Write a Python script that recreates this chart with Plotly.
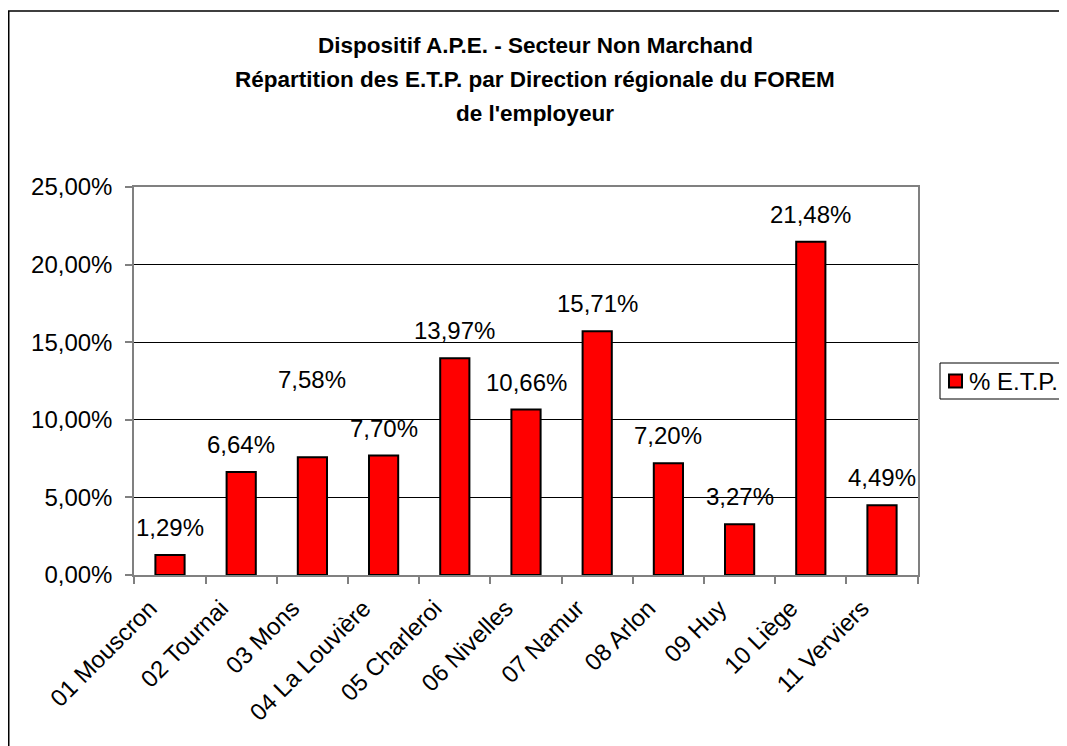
import plotly.graph_objects as go

categories = ["01 Mouscron", "02 Tournai", "03 Mons", "04 La Louvière", "05 Charleroi",
              "06 Nivelles", "07 Namur", "08 Arlon", "09 Huy", "10 Liège", "11 Verviers"]
values_pct = [1.29, 6.64, 7.58, 7.70, 13.97, 10.66, 15.71, 7.20, 3.27, 21.48, 4.49]
series_name = "% E.T.P."
title_lines = ["Dispositif A.P.E. - Secteur Non Marchand",
               "Répartition des E.T.P. par Direction régionale du FOREM",
               "de l'employeur"]

values = [v / 100 for v in values_pct]
labels = [f"{v:.2f}".replace(".", ",") + "%" for v in values_pct]

# extra upward shift (px) of some data labels, as laid out in the original
label_lift = [0, 0, 50, 0, 0, 0, 0, 0, 0, 0, 0]

# page has an 8px body margin; work in figure pixels (page - 8)
OFF = 8
W, H = 1067 - OFF, 746 - OFF
L, R, T, B = 134 - OFF, 918 - OFF, 187 - OFF, 575 - OFF

FONT = "Liberation Sans, Arial, sans-serif"
FS = 24


def py(p):  # page y -> paper y
    return (B - (p - OFF)) / (B - T)


def px(p):  # page x -> paper x
    return ((p - OFF) - L) / (R - L)


fig = go.Figure()
fig.add_trace(go.Bar(
    x=categories, y=values, name=series_name,
    marker=dict(color="#FF0000", line=dict(color="#000000", width=2)),
    showlegend=False,
))

annotations = []
for line, yp in zip(title_lines, [45, 79, 113]):
    annotations.append(dict(
        text=f"<b>{line}</b>", x=px(535), y=py(yp), xref="paper", yref="paper",
        xanchor="center", yanchor="middle", showarrow=False,
        font=dict(family=FONT, size=22.5, color="#000000")))

for c, v, t, d in zip(categories, values, labels, label_lift):
    annotations.append(dict(
        text=t, x=c, y=v, xref="x", yref="y", xanchor="center", yanchor="bottom",
        yshift=12 + d, showarrow=False,
        font=dict(family=FONT, size=FS, color="#000000")))

# legend (manual, Excel style)
annotations.append(dict(
    text=series_name, x=px(967), y=py(381), xref="paper", yref="paper",
    xanchor="left", yanchor="middle", showarrow=False,
    font=dict(family=FONT, size=FS, color="#000000")))

shapes = [
    dict(type="rect", xref="paper", yref="paper",
         x0=px(8.75), x1=px(1300), y0=py(11), y1=py(1000),
         line=dict(color="#000000", width=1.5), layer="below"),
    dict(type="rect", xref="paper", yref="paper",
         x0=px(940), x1=px(1200), y0=py(363), y1=py(399),
         line=dict(color="#000000", width=1), fillcolor="white", layer="above"),
    dict(type="rect", xref="paper", yref="paper",
         x0=px(949), x1=px(962), y0=py(374.5), y1=py(387.5),
         line=dict(color="#000000", width=2), fillcolor="#FF0000", layer="above"),
]

fig.update_layout(
    width=W, height=H,
    margin=dict(l=L, r=W - R, t=T, b=H - B, autoexpand=False),
    paper_bgcolor="white", plot_bgcolor="white",
    separators=", ",
    bargap=0.59,
    showlegend=False,
    font=dict(family=FONT, size=FS, color="#000000"),
    annotations=annotations,
    shapes=shapes,
)

fig.update_xaxes(
    type="category", showline=True, linecolor="#808080", linewidth=1.5, mirror=True,
    ticks="outside", tickson="boundaries", ticklen=7, tickcolor="#808080", tickwidth=1.5,
    tickangle=-45, showgrid=False, automargin=False,
    ticklabelshift=-20, ticklabelstandoff=8,
    tickfont=dict(family=FONT, size=FS, color="#000000"),
)
fig.update_yaxes(
    range=[0, 0.25], dtick=0.05, tickformat=".2%",
    showline=True, linecolor="#808080", linewidth=1.5, mirror=True,
    ticks="outside", ticklen=7, tickcolor="#808080", tickwidth=1.5,
    showgrid=True, gridcolor="#000000", gridwidth=1, zeroline=False, automargin=False,
    ticklabelstandoff=8,
    tickfont=dict(family=FONT, size=FS, color="#000000"),
)

fig.write_html("out.html")
